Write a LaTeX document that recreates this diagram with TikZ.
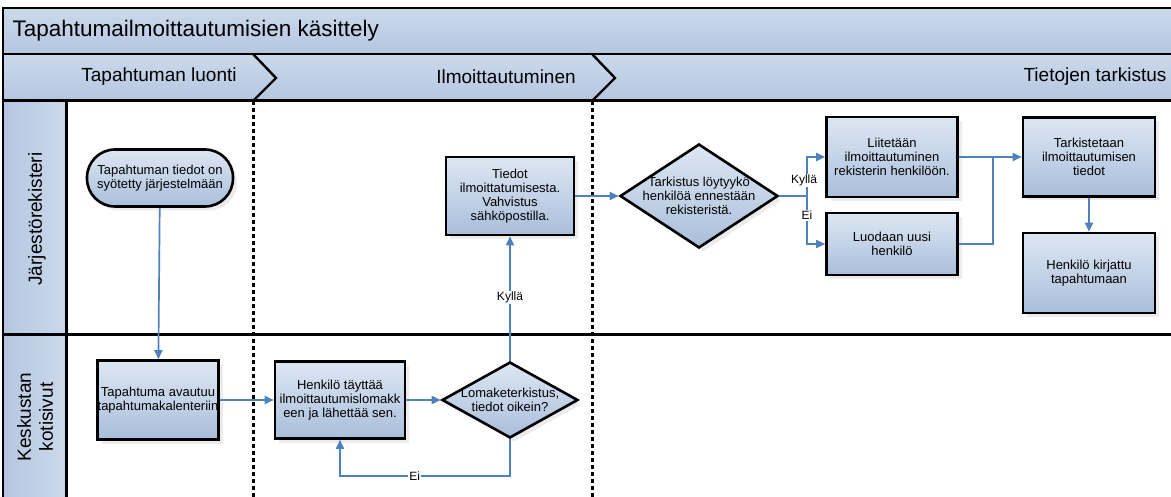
\documentclass[tikz,border=0pt]{standalone}
\usepackage{fontspec}
\setmainfont{Liberation Sans}
\usetikzlibrary{shapes.geometric,shadows,arrows.meta}
\definecolor{nuoli}{HTML}{4F81BD}
\definecolor{laatikko1}{HTML}{DDE7F3}
\definecolor{laatikko2}{HTML}{A9BEDB}
\definecolor{kaista1}{HTML}{CCD9EC}
\definecolor{kaista2}{HTML}{B4C6DF}
\tikzstyle{flowline}=[draw=nuoli, line width=1.7pt]
\tikzstyle{flow}=[flowline, -{Triangle[length=9pt,width=8pt]}]
\tikzstyle{task}=[rectangle, draw, line width=2.6pt,
                  top color=laatikko1, bottom color=laatikko2,
                  drop shadow={shadow xshift=4pt, shadow yshift=-4pt, fill=black!15},
                  align=center, inner sep=0pt,
                  font=\fontsize{13}{14}\selectfont]
\tikzstyle{terminal}=[task, rounded corners=28pt]
\tikzstyle{decision}=[task, diamond]
\tikzstyle{txt}=[align=center, font=\fontsize{13}{14}\selectfont]
\tikzstyle{cond}=[fill=white, inner sep=1pt, font=\fontsize{12}{14}\selectfont]
\tikzstyle{separator}=[line width=3pt, dash pattern=on 4pt off 3pt]

\begin{document}
\begin{tikzpicture}[x=1pt, y=-1pt]
  \useasboundingbox (0,0) rectangle (1171,497);

  % otsikko ja vaiheet
  \fill [top color=kaista1, bottom color=kaista2] (3,8) rectangle (1175,54);
  \fill [top color=kaista1, bottom color=kaista2] (3,54) rectangle (1175,101);
  \fill [left color=kaista2, right color=kaista1] (3,101) rectangle (66,500);
  \draw [line width=2pt] (1175,8) -- (3,8) -- (3,500);
  \draw [line width=2pt] (3,54) -- (1175,54);
  \draw [line width=3pt] (3,101) -- (1175,101);
  \draw [line width=3pt] (3,335) -- (1175,335);
  \draw [line width=3pt] (66,101) -- (66,500);
  \draw [line width=2.4pt] (253,54) -- (276,78) -- (253,101);
  \draw [line width=2.4pt] (592,54) -- (615,78) -- (592,101);
  \draw [separator] (253,101) -- (253,500);
  \draw [separator] (592,101) -- (592,500);

  \node (otsikko) at (9,31) [anchor=west, font=\fontsize{22.5}{24}\selectfont]
        {Tapahtumailmoittautumisien käsittely};
  \node (luonti) at (159,77) [font=\fontsize{19}{22}\selectfont] {Tapahtuman luonti};
  \node (ilmo) at (506,77) [font=\fontsize{19}{22}\selectfont] {Ilmoittautuminen};
  \node (tarkistus) at (1170,77) [anchor=east, font=\fontsize{19}{22}\selectfont]
        {Tietojen tarkistus};
  \node (rekisteri) at (37,219) [rotate=90, font=\fontsize{19}{22}\selectfont]
        {Järjestörekisteri};
  \node (kotisivut) at (35,417) [rotate=90, align=center, font=\fontsize{19}{22}\selectfont]
        {Keskustan\\kotisivut};

  % vaiheet
  \node (start) at (160,178) [terminal, minimum width=146pt, minimum height=57pt]
        {Tapahtuman tiedot on\\syötetty järjestelmään};
  \node (avaus) at (158,400) [task, minimum width=121pt, minimum height=79pt]
        {Tapahtuma avautuu\\tapahtumakalenteriin};
  \node (tayttaa) at (340,400) [task, minimum width=130pt, minimum height=77pt]
        {Henkilö täyttää\\ilmoittautumislomakk\\een ja lähettää sen.};
  \node (lomake) at (510,400) [decision, minimum width=136pt, minimum height=76pt,
        label={[txt]center:Lomaketerkistus,\\tiedot oikein?}] {};
  \node (tiedot) at (510,196) [task, minimum width=128pt, minimum height=78pt]
        {Tiedot\\ilmoittatumisesta.\\Vahvistus\\sähköpostilla.};
  \node (tark) at (699,196) [decision, minimum width=158pt, minimum height=104pt,
        label={[txt]center:Tarkistus löytyykö\\henkilöä ennestään\\rekisteristä.}] {};
  \node (liitetaan) at (892,157) [task, minimum width=131pt, minimum height=80pt]
        {Liitetään\\ilmoittautuminen\\rekisterin henkilöön.};
  \node (luodaan) at (892,244) [task, minimum width=131pt, minimum height=62pt]
        {Luodaan uusi\\henkilö};
  \node (tarkistetaan) at (1089,157) [task, minimum width=132pt, minimum height=79pt]
        {Tarkistetaan\\ilmoittautumisen\\tiedot};
  \node (kirjattu) at (1089,273) [task, minimum width=132pt, minimum height=80pt]
        {Henkilö kirjattu\\tapahtumaan};

  \coordinate (haara) at (807,196);
  \coordinate (liitos) at (993,157);

  \foreach \u/\v in {start/avaus,avaus/tayttaa,tayttaa/lomake,tiedot/tark,
                     liitetaan/tarkistetaan,tarkistetaan/kirjattu}
    \draw [flow] (\u) -- (\v);
  \draw [flow] (lomake) -- node[cond, pos=.51] {Kyllä} (tiedot);
  \draw [flow] (lomake.south) -- +(0,37) -| node[cond, pos=.28] {Ei} (tayttaa.south);
  \draw [flowline] (tark.east) -- (haara);
  \draw [flow] (haara) |- node[cond, pos=.2, xshift=-3pt] {Kyllä} (liitetaan.west);
  \draw [flow] (haara) |- node[cond, pos=.2] {Ei} (luodaan.west);
  \draw [flowline] (luodaan.east) -| (liitos);
\end{tikzpicture}
\end{document}
